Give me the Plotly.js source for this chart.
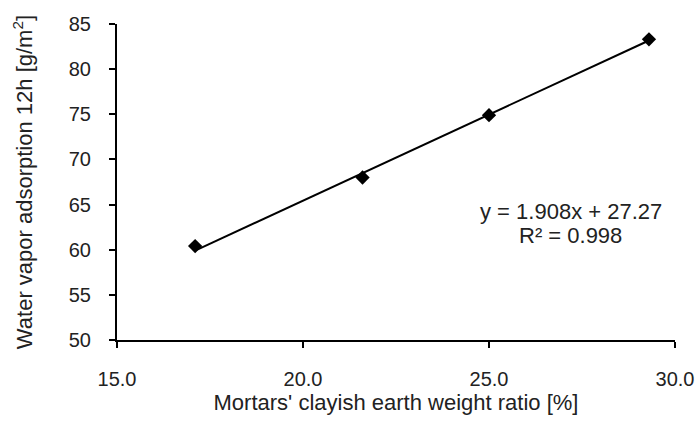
<!DOCTYPE html>
<html>
<head>
<meta charset="utf-8">
<script src="https://cdn.plot.ly/plotly-3.0.1.min.js"></script>
<style>
  html, body { margin: 0; padding: 0; background: #fff; }
  #chart { width: 698px; height: 423px; }
</style>
</head>
<body>
<div id="chart"></div>
<script>
// Data
const clayRatio = [17.1, 21.6, 25.0, 29.3];          // Mortars' clayish earth weight ratio [%]
const vaporAdsorption = [60.4, 68.0, 74.9, 83.3];    // Water vapor adsorption 12h [g/m2]
const trendSlope = 1.908;
const trendIntercept = 27.27;
const trendR2 = 0.998;
const xTickVals = [15, 20, 25, 30];
const yTickVals = [50, 55, 60, 65, 70, 75, 80, 85];

const xMin = Math.min(...clayRatio), xMax = Math.max(...clayRatio);
const trendX = [xMin, xMax];
const trendY = trendX.map(x => trendSlope * x + trendIntercept);

const FONT = 'Liberation Sans, Arial, sans-serif';
const TXT = '#222222';

const traces = [
  {
    x: trendX, y: trendY, mode: 'lines', type: 'scatter',
    line: { color: '#000000', width: 2 }, hoverinfo: 'skip', showlegend: false
  },
  {
    x: clayRatio, y: vaporAdsorption, mode: 'markers', type: 'scatter',
    marker: { symbol: 'diamond', size: 11, color: '#000000' }, showlegend: false
  }
];

const layout = {
  width: 698, height: 423,
  margin: { l: 117, r: 23, t: 24, b: 83 },
  paper_bgcolor: '#ffffff', plot_bgcolor: '#ffffff',
  font: { family: FONT, color: TXT, size: 20 },
  showlegend: false,
  xaxis: {
    range: [15, 30], tickvals: xTickVals, tickformat: '.1f',
    showgrid: false, zeroline: false,
    showline: true, linecolor: '#000000', linewidth: 2,
    ticks: 'outside', ticklen: 6, tickwidth: 2, tickcolor: '#000000',
    ticklabelstandoff: 14,
    tickfont: { family: FONT, size: 20, color: TXT },
    title: { text: "Mortars' clayish earth weight ratio [%]", font: { family: FONT, size: 22, color: TXT }, standoff: 5 }
  },
  yaxis: {
    range: [50, 85], tickvals: yTickVals,
    showgrid: false, zeroline: false,
    showline: true, linecolor: '#000000', linewidth: 2,
    ticks: 'outside', ticklen: 6, tickwidth: 2, tickcolor: '#000000',
    ticklabelstandoff: 14,
    tickfont: { family: FONT, size: 20, color: TXT },
    title: { text: 'Water vapor adsorption 12h [g/m<sup>2</sup>]', font: { family: FONT, size: 22, color: TXT }, standoff: 30 }
  },
  annotations: [
    {
      xref: 'x', yref: 'y', x: 27.2, y: 64.2,
      text: 'y = ' + trendSlope.toFixed(3) + 'x + ' + trendIntercept.toFixed(2),
      showarrow: false, align: 'center',
      font: { family: FONT, size: 22, color: TXT }
    },
    {
      xref: 'x', yref: 'y', x: 27.2, y: 61.6,
      text: 'R² = ' + trendR2.toFixed(3),
      showarrow: false, align: 'center',
      font: { family: FONT, size: 22, color: TXT }
    }
  ]
};

Plotly.newPlot('chart', traces, layout, { displayModeBar: false, staticPlot: true });
</script>
</body>
</html>
